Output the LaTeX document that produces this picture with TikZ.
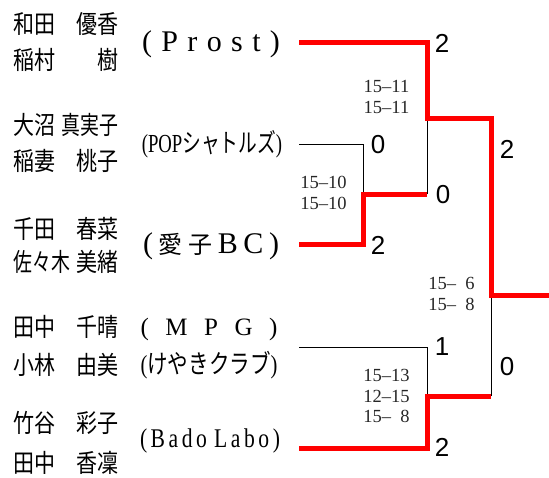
\documentclass[tikz,border=0pt]{standalone}
\usepackage{fontspec}
\usepackage{graphicx}
\setmainfont{Liberation Serif}
\newfontfamily\jp{Noto Sans CJK JP}
\newfontfamily\sansdig{Liberation Sans}
\newcommand\nmfont{\jp\fontsize{21}{21}\selectfont}
\newcommand\nm[2]{\scalebox{1}[1.2]{\makebox[105pt]{#1\hfill#2}}}
\newcommand\dd{\textendash}
\begin{document}
\begin{tikzpicture}[x=1pt,y=-1pt,
  pname/.style={anchor=west, inner sep=0pt, font=\nmfont},
  team/.style={inner sep=0pt},
  win/.style={draw=red, line width=5pt, line join=miter},
  lose/.style={draw=black, line width=0.9pt},
  sc/.style={inner sep=0pt, font=\sansdig\fontsize{26}{26}\selectfont},
  games/.style={inner sep=0pt, align=center, text=black!85, font=\fontsize{18.5}{20.5}\selectfont}]
\useasboundingbox (0,0) rectangle (549,477);
% player names
\node[pname] (n1a) at (13,24) {\nm{和田}{優香}};
\node[pname] (n1b) at (13,60) {\nm{稲村}{樹}};
\node[pname] (n2a) at (13,125) {\nm{大沼}{\scalebox{0.9}[1]{真実子}}};
\node[pname] (n2b) at (13,161) {\nm{稲妻}{桃子}};
\node[pname] (n3a) at (13,229) {\nm{千田}{春菜}};
\node[pname] (n3b) at (13,262) {\nm{\scalebox{0.9}[1]{佐々木}}{美緒}};
\node[pname] (n4a) at (13,327) {\nm{田中}{千晴}};
\node[pname] (n4b) at (13,365) {\nm{小林}{由美}};
\node[pname] (n5a) at (13,423) {\nm{竹谷}{彩子}};
\node[pname] (n5b) at (13,463) {\nm{田中}{香凜}};
% teams
\node[team] (t1) at (211,44) {\fontsize{30}{30}\selectfont\makebox[138pt]{(\hfill P\hfill r\hfill o\hfill s\hfill t\hfill)}};
\node[team] (t2) at (212,144) {\scalebox{0.72}[1]{\fontsize{26}{26}\selectfont (POP{\jp シャトルズ})}};
\node[team] (t3) at (211,246) {\fontsize{30}{30}\selectfont\makebox[136pt]{(\hfill{\jp\fontsize{24}{24}\selectfont 愛\hfill 子}\hfill B\hfill C\hfill)}};
\node[team] (t4) at (209,329) {\fontsize{25}{25}\selectfont\makebox[137pt]{(\hfill M\hfill P\hfill G\hfill)}};
\node[team] (t5) at (209,365) {\scalebox{0.79}[1]{\fontsize{26}{26}\selectfont({\jp けやきクラブ})}};
\node[team] (t6) at (210,441) {\scalebox{0.8}[1]{\fontsize{27}{27}\selectfont\makebox[175pt]{(\hfill B\hfill a\hfill d\hfill o\hfill\hfill L\hfill a\hfill b\hfill o\hfill)}}};
% bracket coordinates
\coordinate (e1) at (299,42);
\coordinate (e2) at (299,144);
\coordinate (e3) at (299,244);
\coordinate (e4) at (299,347);
\coordinate (e5) at (299,448);
\coordinate (a2) at (363,144);
\coordinate (a3) at (363,244);
\coordinate (am) at (363,194);
\coordinate (b1) at (427,42);
\coordinate (bA) at (427,194);
\coordinate (bm) at (427,118);
\coordinate (c4) at (427,347);
\coordinate (c5) at (427,448);
\coordinate (cm) at (427,396);
\coordinate (fB) at (491,118);
\coordinate (fC) at (491,396);
\coordinate (fm) at (491,295);
\coordinate (out) at (549,295);
% losing lines
\draw[lose] (e2) -- (a2) -- (am);
\draw[lose] (bA) -- (bm);
\draw[lose] (e4) -- (c4) -- (cm);
\draw[lose] (fC) -- (fm);
% winning lines
\draw[win] (e1) -- (b1) -- (bm) -- (fB) -- (fm) -- (out);
\draw[win] (e3) -- (a3) -- (am) -- (bA);
\draw[win] (e5) -- (c5) -- (cm) -- (fC);
% game scores
\node[games] (g1) at (386.5,97) {15\dd11\\15\dd11};
\node[games] (g2) at (323.5,193) {15\dd10\\15\dd10};
\node[games] (g3) at (451.5,294) {15\dd\enspace6\\15\dd\enspace8};
\node[games] (g4) at (386.5,396) {15\dd13\\12\dd15\\15\dd\enspace8};
% match scores
\node[sc] (r1) at (442,43) {2};
\node[sc] (r2) at (378,145) {0};
\node[sc] (r3) at (378,245) {2};
\node[sc] (r4) at (443,195) {0};
\node[sc] (r5) at (507,149) {2};
\node[sc] (r6) at (442,347) {1};
\node[sc] (r7) at (507,367) {0};
\node[sc] (r8) at (442,447) {2};
\end{tikzpicture}
\end{document}
